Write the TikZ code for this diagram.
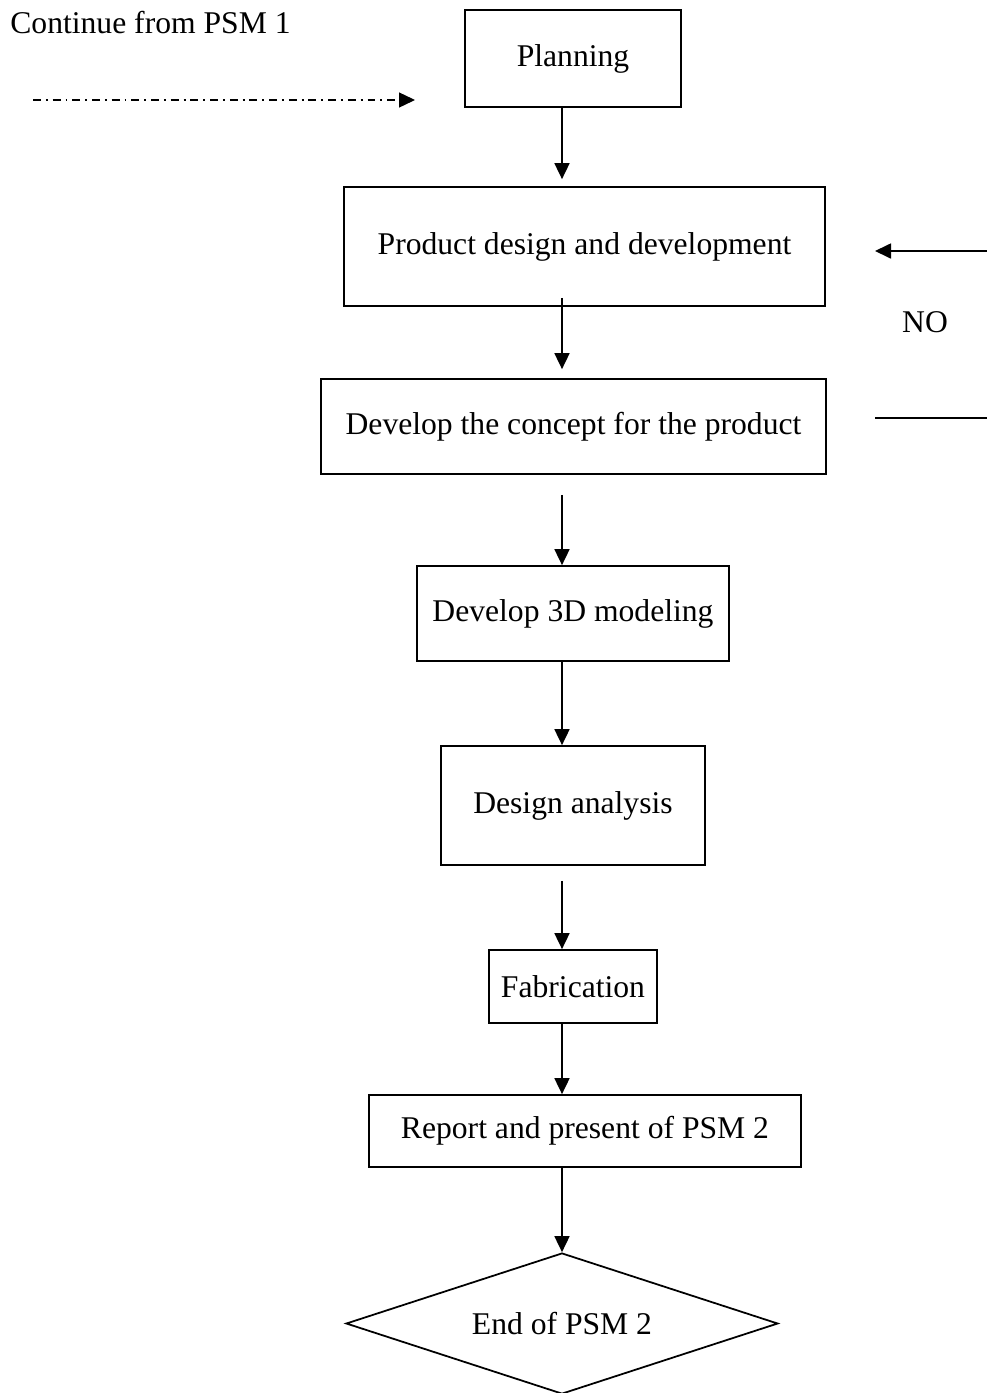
\documentclass[tikz,border=0pt]{standalone}
\usepackage{fontspec}
\setmainfont{Liberation Serif}
\usetikzlibrary{shapes,arrows.meta,positioning,calc}

\begin{document}
\begin{tikzpicture}[
    x=0.02cm, y=-0.02cm,
    every node/.style={font=\fontsize{18}{22}\selectfont},
    stage/.style={rectangle, draw, line width=1pt, inner sep=0pt, text centered},
    finish/.style={diamond, draw, line width=1pt, inner sep=0pt, aspect=3.06, text centered},
    arrow/.style={-{Triangle[length=0.32cm, width=0.3cm]}, line width=1pt},
    link/.style={-{Triangle[length=0.32cm, width=0.3cm]}, line width=0.8pt, dash pattern=on 4.5pt off 2.8pt on 1.1pt off 2.8pt}
]
\useasboundingbox (0,0) rectangle (987,1393);

% Nodes
\node (planning) [stage, minimum width=4.32cm, minimum height=1.94cm] at (573,58.5) {Planning};
\node (design) [stage, minimum width=9.62cm, minimum height=2.38cm] at (584.5,246.5) {Product design and development};
\node (concept) [stage, minimum width=10.1cm, minimum height=1.9cm] at (573.5,426.5) {Develop the concept for the product};
\node (model) [stage, minimum width=6.24cm, minimum height=1.9cm] at (573,613.5) {Develop 3D modeling};
\node (analysis) [stage, minimum width=5.28cm, minimum height=2.38cm] at (573,805.5) {Design analysis};
\node (fab) [stage, minimum width=3.36cm, minimum height=1.46cm] at (573,986.5) {Fabrication};
\node (report) [stage, minimum width=8.64cm, minimum height=1.44cm] at (585,1131) {Report and present of PSM 2};
\node (finish) [finish, minimum width=8.64cm, minimum height=2.82cm] at (562,1323.5) {End of PSM 2};

\coordinate (spine) at (562,0);
\coordinate (psmstart) at (33,100);
\coordinate (psmend) at (415,100);
\coordinate (noin) at (987,251);
\coordinate (notip) at (875,251);
\coordinate (noout) at (875,418);
\coordinate (noend) at (987,418);

% Arrows
\draw [link] (psmstart) -- (psmend);
\draw [arrow, shorten >=0.14cm] (planning.south -| spine) -- (design.north -| spine);
\draw [arrow, shorten <=-0.18cm, shorten >=0.18cm] (design.south -| spine) -- (concept.north -| spine);
\draw [arrow, shorten <=0.4cm] (concept.south -| spine) -- (model.north -| spine);
\draw [arrow] (model.south -| spine) -- (analysis.north -| spine);
\draw [arrow, shorten <=0.3cm] (analysis.south -| spine) -- (fab.north -| spine);
\draw [arrow] (fab.south -| spine) -- (report.north -| spine);
\draw [arrow] (report.south -| spine) -- (finish.north);
\draw [arrow] (noin) -- (notip);
\draw [line width=1pt] (noout) -- (noend);

% Labels
\node (continue) [anchor=base west, inner sep=0pt] at (10,33) {Continue from PSM 1};
\node (no) at (925,322) {NO};

\end{tikzpicture}
\end{document}
